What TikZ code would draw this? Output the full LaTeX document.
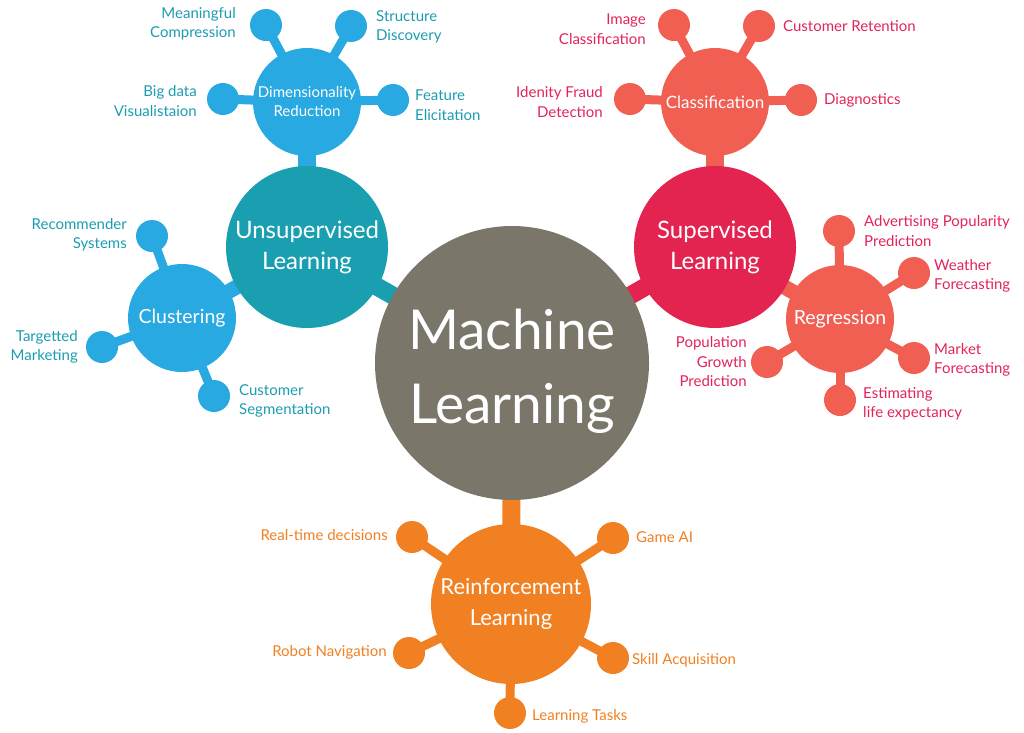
\documentclass[tikz,border=0pt]{standalone}
\usepackage{fontspec}
\setmainfont{Lato}
\usetikzlibrary{backgrounds}
\definecolor{mlgray}{HTML}{7B766A}
\definecolor{ulteal}{HTML}{1A9FB1}
\definecolor{ltblue}{HTML}{29A9E1}
\definecolor{slred}{HTML}{E32350}
\definecolor{coral}{HTML}{F05F52}
\definecolor{rlorange}{HTML}{F08022}
\definecolor{bluetxt}{HTML}{1C9CB2}
\definecolor{redtxt}{HTML}{E2245A}

\begin{document}
\begin{tikzpicture}[x=1pt,y=-1pt,
    hub/.style={circle,inner sep=0pt,text=white,align=center},
    leaf/.style={circle,inner sep=0pt,minimum size=32pt},
    lbl/.style={inner sep=0pt,font=\fontsize{15}{19.5}\selectfont},
    bigarm/.style={line width=18pt},
    arm/.style={line width=9pt}]
  \useasboundingbox (0,0) rectangle (1024,732);
  % hubs
  \node[hub,fill=mlgray,minimum size=274pt,
    label={[name=mlt,text=white,align=center,yshift=-8pt,font=\fontsize{55}{74}\selectfont]center:{Machine\\Learning}}] (ml) at (512,363) {};
  \node[hub,fill=ulteal,minimum size=162pt,font=\fontsize{24}{31}\selectfont] (ul) at (307,247) {Unsupervised\\Learning};
  \node[hub,fill=slred,minimum size=162pt,font=\fontsize{24}{31}\selectfont] (sl) at (715,247) {Supervised\\Learning};
  \node[hub,fill=rlorange,minimum size=160pt,font=\fontsize{22}{31}\selectfont] (rl) at (511,604) {Reinforcement\\Learning};
  \node[hub,fill=ltblue,minimum size=108pt,font=\fontsize{15}{19}\selectfont] (dr) at (307,102) {Dimensionality\\Reduction};
  \node[hub,fill=ltblue,minimum size=108pt,font=\fontsize{19.5}{24}\selectfont] (cl) at (182,318) {Clustering};
  \node[hub,fill=coral,minimum size=108pt,font=\fontsize{17}{21}\selectfont] (cf) at (715,102) {Classification};
  \node[hub,fill=coral,minimum size=108pt,font=\fontsize{19.5}{24}\selectfont] (rg) at (840,319) {Regression};

  % dimensionality reduction
  \node[leaf,fill=ltblue] (dr1) at (266,25){};
  \node[leaf,fill=ltblue] (dr2) at (351,26){};
  \node[leaf,fill=ltblue] (dr3) at (223,99){};
  \node[leaf,fill=ltblue] (dr4) at (393,100){};
  \node[lbl,text=bluetxt,anchor=east,align=right] (dr1t) at (236,24) {Meaningful\\Compression};
  \node[lbl,text=bluetxt,anchor=west,align=left] (dr2t) at (376,27) {Structure\\Discovery};
  \node[lbl,text=bluetxt,anchor=east,align=right] (dr3t) at (197,101) {Big data\\Visualistaion};
  \node[lbl,text=bluetxt,anchor=west,align=left] (dr4t) at (415,105) {Feature\\Elicitation};

  % clustering
  \node[leaf,fill=ltblue] (cl1) at (152,236){};
  \node[leaf,fill=ltblue] (cl2) at (102,347){};
  \node[leaf,fill=ltblue] (cl3) at (214,396){};
  \node[lbl,text=bluetxt,anchor=east,align=right] (cl1t) at (127,235) {Recommender\\Systems};
  \node[lbl,text=bluetxt,anchor=east,align=right] (cl2t) at (78,347) {Targetted\\Marketing};
  \node[lbl,text=bluetxt,anchor=west,align=left] (cl3t) at (239,401) {Customer\\Segmentation};

  % classification
  \node[leaf,fill=coral] (cf1) at (674,25){};
  \node[leaf,fill=coral] (cf2) at (759,26){};
  \node[leaf,fill=coral] (cf3) at (630,99){};
  \node[leaf,fill=coral] (cf4) at (801,100){};
  \node[lbl,text=redtxt,anchor=east,align=right] (cf1t) at (646,29) {Image\\Classification};
  \node[lbl,text=redtxt,anchor=west] (cf2t) at (783,26) {Customer Retention};
  \node[lbl,text=redtxt,anchor=east,align=right] (cf3t) at (603,102) {Idenity Fraud\\Detection};
  \node[lbl,text=redtxt,anchor=west] (cf4t) at (824,100) {Diagnostics};

  % regression
  \node[leaf,fill=coral] (rg1) at (839,231){};
  \node[leaf,fill=coral] (rg2) at (914,273){};
  \node[leaf,fill=coral] (rg3) at (914,358){};
  \node[leaf,fill=coral] (rg4) at (840,400){};
  \node[leaf,fill=coral] (rg5) at (767,362){};
  \node[lbl,text=redtxt,anchor=west,align=left] (rg1t) at (864,231) {Advertising Popularity\\Prediction};
  \node[lbl,text=redtxt,anchor=west,align=left] (rg2t) at (934,276) {Weather\\Forecasting};
  \node[lbl,text=redtxt,anchor=west,align=left] (rg3t) at (934,360) {Market\\Forecasting};
  \node[lbl,text=redtxt,anchor=west,align=left] (rg4t) at (863,404) {Estimating\\life expectancy};
  \node[lbl,text=redtxt,anchor=east,align=right] (rg5t) at (747,362) {Population\\Growth\\Prediction};

  % reinforcement
  \node[leaf,fill=rlorange] (rl1) at (412,537){};
  \node[leaf,fill=rlorange] (rl2) at (613,538){};
  \node[leaf,fill=rlorange] (rl3) at (409,653){};
  \node[leaf,fill=rlorange] (rl4) at (613,658){};
  \node[leaf,fill=rlorange] (rl5) at (510,713){};
  \node[lbl,text=rlorange,anchor=east] (rl1t) at (388,535) {Real-time decisions};
  \node[lbl,text=rlorange,anchor=west] (rl2t) at (636,537) {Game AI};
  \node[lbl,text=rlorange,anchor=east] (rl3t) at (387,652) {Robot Navigation};
  \node[lbl,text=rlorange,anchor=west] (rl4t) at (632,660) {Skill Acquisition};
  \node[lbl,text=rlorange,anchor=west] (rl5t) at (532,716) {Learning Tasks};

  % arms behind the circles
  \begin{pgfonlayer}{background}
    \draw[bigarm,ulteal](ml.center)--(ul.center);
    \draw[bigarm,slred](ml.center)--(sl.center);
    \draw[bigarm,rlorange](ml.center)--(rl.center);
    \draw[bigarm,ltblue](ul.center)--(dr.center);
    \draw[line width=15pt,ltblue](ul.center)--(cl.center);
    \draw[bigarm,coral](sl.center)--(cf.center);
    \draw[line width=15pt,coral](sl.center)--(rg.center);
    \draw[arm,ltblue](dr.center)--(dr1.center);
    \draw[arm,ltblue](dr.center)--(dr2.center);
    \draw[arm,ltblue](dr.center)--(dr3.center);
    \draw[arm,ltblue](dr.center)--(dr4.center);
    \draw[arm,ltblue](cl.center)--(cl1.center);
    \draw[arm,ltblue](cl.center)--(cl2.center);
    \draw[arm,ltblue](cl.center)--(cl3.center);
    \draw[arm,coral](cf.center)--(cf1.center);
    \draw[arm,coral](cf.center)--(cf2.center);
    \draw[arm,coral](cf.center)--(cf3.center);
    \draw[arm,coral](cf.center)--(cf4.center);
    \draw[arm,coral](rg.center)--(rg1.center);
    \draw[arm,coral](rg.center)--(rg2.center);
    \draw[arm,coral](rg.center)--(rg3.center);
    \draw[arm,coral](rg.center)--(rg4.center);
    \draw[arm,coral](rg.center)--(rg5.center);
    \draw[arm,rlorange](rl.center)--(rl1.center);
    \draw[arm,rlorange](rl.center)--(rl2.center);
    \draw[arm,rlorange](rl.center)--(rl3.center);
    \draw[arm,rlorange](rl.center)--(rl4.center);
    \draw[arm,rlorange](rl.center)--(rl5.center);
  \end{pgfonlayer}
\end{tikzpicture}
\end{document}
